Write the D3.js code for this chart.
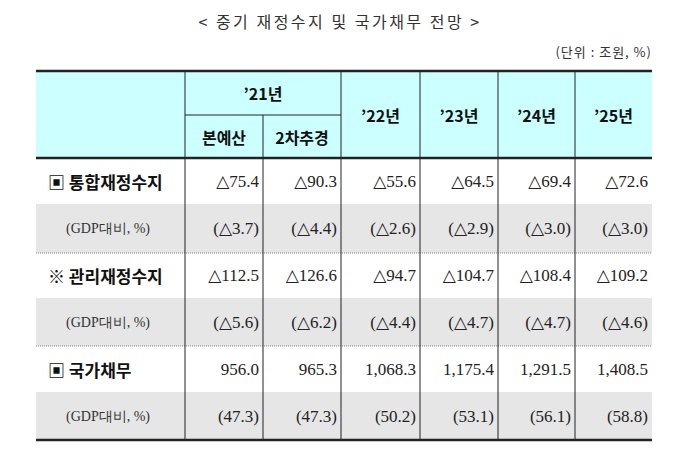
<!DOCTYPE html>
<html><head><meta charset="utf-8">
<script src="https://cdn.jsdelivr.net/npm/d3@7"></script>
<style>body{margin:0;background:#fff}</style></head>
<body><svg id="c" width="680" height="462"></svg>
<script>
const title = "< 중기 재정수지 및 국가채무 전망 >";
const unit = "(단위 : 조원, %)";
const columns = ["본예산", "2차추경", "’22년", "’23년", "’24년", "’25년"];
const rowLabels = ["▣ 통합재정수지", "(GDP대비, %)", "※ 관리재정수지", "(GDP대비, %)", "▣ 국가채무", "(GDP대비, %)"];
const integratedBalance = ["△75.4", "△90.3", "△55.6", "△64.5", "△69.4", "△72.6"];
const integratedGdp = ["(△3.7)", "(△4.4)", "(△2.6)", "(△2.9)", "(△3.0)", "(△3.0)"];
const managedBalance = ["△112.5", "△126.6", "△94.7", "△104.7", "△108.4", "△109.2"];
const managedGdp = ["(△5.6)", "(△6.2)", "(△4.4)", "(△4.7)", "(△4.7)", "(△4.6)"];
const nationalDebt = ["956.0", "965.3", "1,068.3", "1,175.4", "1,291.5", "1,408.5"];
const debtGdp = ["(47.3)", "(47.3)", "(50.2)", "(53.1)", "(56.1)", "(58.8)"];
const rowsData = [integratedBalance, integratedGdp, managedBalance, managedGdp, nationalDebt, debtGdp];

const svg = d3.select("#c");
const kr = "'Noto Sans CJK KR', sans-serif";
const serif = "'Liberation Serif', 'DejaVu Serif', serif";
const L = 36, R = 652, hTop = 71, hMid = 115, hBot = 158;
const colEdges = [L, 185, 263, 341, 420, 498, 575, R];
const rowEdges = [158, 204, 253, 298, 346, 392, 440];

svg.append("text").attr("x", 340).attr("y", 28).attr("text-anchor", "middle")
  .attr("font-family", kr).attr("font-size", 16).attr("letter-spacing", 2.5).attr("fill", "#333").text(title);
svg.append("text").attr("x", R).attr("y", 57).attr("text-anchor", "end")
  .attr("font-family", kr).attr("font-size", 13).attr("letter-spacing", 1).attr("fill", "#333").text(unit);

svg.append("rect").attr("x", L).attr("y", hTop).attr("width", R - L).attr("height", hBot - hTop).attr("fill", "#ccffff");
rowsData.forEach((r, i) => {
  if (i % 2 === 1) svg.append("rect").attr("x", L).attr("y", rowEdges[i]).attr("width", R - L)
    .attr("height", rowEdges[i + 1] - rowEdges[i]).attr("fill", "#e6e6e6");
});

const hdr = (x, y, t) => svg.append("text").attr("x", x).attr("y", y).attr("text-anchor", "middle")
  .attr("dominant-baseline", "central").attr("font-family", kr).attr("font-weight", "bold")
  .attr("font-size", 16).attr("fill", "#111").text(t);
hdr((colEdges[1] + colEdges[3]) / 2, (hTop + hMid) / 2, "’21년");
hdr((colEdges[1] + colEdges[2]) / 2, (hMid + hBot) / 2, columns[0]);
hdr((colEdges[2] + colEdges[3]) / 2, (hMid + hBot) / 2, columns[1]);
for (let j = 2; j < 6; j++) hdr((colEdges[j + 1] + colEdges[j + 2]) / 2, (hTop + hBot) / 2, columns[j]);

rowsData.forEach((r, i) => {
  const cy = (rowEdges[i] + rowEdges[i + 1]) / 2;
  const bold = i % 2 === 0;
  svg.append("text").attr("x", bold ? 48 : 66).attr("y", cy).attr("dominant-baseline", "central")
    .attr("font-family", bold ? kr : serif).attr("font-weight", bold ? "bold" : "normal")
    .attr("font-size", bold ? 17 : 14).attr("fill", bold ? "#111" : "#333").text(rowLabels[i]);
  r.forEach((v, j) => {
    svg.append("text").attr("x", colEdges[j + 2] - 4).attr("y", cy).attr("text-anchor", "end")
      .attr("dominant-baseline", "central").attr("font-family", serif).attr("font-size", 17)
      .attr("fill", "#222").text(v);
  });
});

const line = (x1, y1, x2, y2, w, dash) => svg.append("line").attr("x1", x1).attr("y1", y1).attr("x2", x2).attr("y2", y2)
  .attr("stroke", "#222").attr("stroke-width", w).attr("stroke-dasharray", dash || null);
line(L, hTop, R, hTop, 2.5);
line(L, hBot, R, hBot, 2.5);
line(L, 440, R, 440, 2.5);
line(colEdges[1], hMid, colEdges[3], hMid, 1);
line(L, 253, R, 253, 1, "1,1").attr("stroke", "#888");
line(L, 346, R, 346, 1, "1,1").attr("stroke", "#888");
for (let j = 1; j < 7; j++) line(colEdges[j], j === 2 ? hMid : hTop, colEdges[j], 440, 1);
</script></body></html>
